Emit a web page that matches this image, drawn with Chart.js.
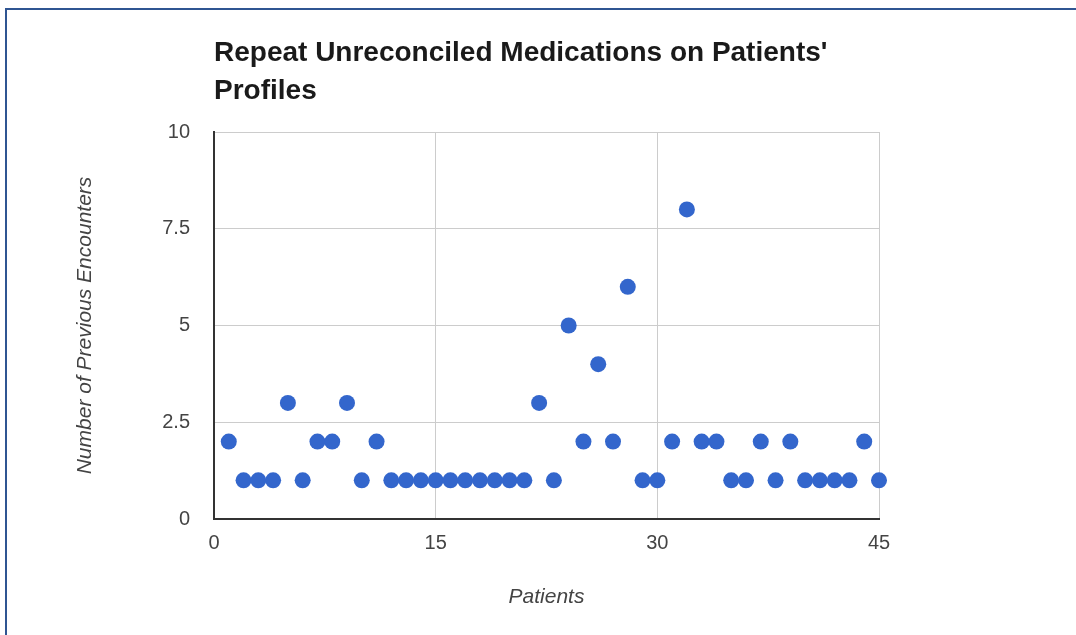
<!DOCTYPE html>
<html>
<head>
<meta charset="utf-8">
<script src="https://cdn.jsdelivr.net/npm/chart.js@4/dist/chart.umd.min.js"></script>
<style>
  html, body { margin: 0; padding: 0; background: #ffffff; }
  #c { display: block; }
</style>
</head>
<body>
<canvas id="c" width="1076" height="635"></canvas>
<script>
// ---- data ----
const patients = [1,2,3,4,5,6,7,8,9,10,11,12,13,14,15,16,17,18,19,20,21,22,23,24,25,26,27,28,29,30,31,32,33,34,35,36,37,38,39,40,41,42,43,44,45];
const encounters = [2,1,1,1,3,1,2,2,3,1,2,1,1,1,1,1,1,1,1,1,1,3,1,5,2,4,2,6,1,1,2,8,2,2,1,1,2,1,2,1,1,1,1,2,1];
const xTickValues = [0, 15, 30, 45];
const yTickValues = [0, 2.5, 5, 7.5, 10];
const chartTitle = ["Repeat Unreconciled Medications on Patients'", "Profiles"];
const xTitle = "Patients";
const yTitle = "Number of Previous Encounters";

const points = patients.map((p, i) => ({ x: p, y: encounters[i] }));

const framePlugin = {
  id: 'frame',
  beforeDraw(chart) {
    const ctx = chart.ctx;
    ctx.save();
    ctx.fillStyle = '#ffffff';
    ctx.fillRect(0, 0, chart.width, chart.height);
    ctx.strokeStyle = '#2f5592';
    ctx.lineWidth = 2;
    ctx.beginPath();
    ctx.moveTo(6, chart.height);
    ctx.lineTo(6, 9);
    ctx.lineTo(chart.width, 9);
    ctx.stroke();
    ctx.restore();
  }
};

new Chart(document.getElementById('c'), {
  type: 'scatter',
  data: {
    datasets: [{
      data: points,
      backgroundColor: '#3366cc',
      borderWidth: 0,
      pointRadius: 8,
      pointHoverRadius: 8,
      clip: false
    }]
  },
  options: {
    responsive: false,
    animation: false,
    events: [],
    layout: { padding: { left: 0, right: 197, top: 0, bottom: 0 } },
    plugins: {
      legend: { display: false },
      tooltip: { enabled: false },
      title: {
        display: true,
        text: chartTitle,
        align: 'start',
        fullSize: false,
        color: '#1a1a1a',
        font: { family: 'Liberation Sans, Arial, sans-serif', size: 28, weight: 'bold', lineHeight: 38 / 28 },
        padding: { top: 34, bottom: 22 }
      }
    },
    scales: {
      x: {
        type: 'linear',
        min: 0,
        max: 45,
        afterBuildTicks: s => { s.ticks = xTickValues.map(v => ({ value: v })); },
        afterFit: s => { s.height = 116; },
        ticks: {
          color: '#444444',
          padding: 12,
          font: { family: 'Liberation Sans, Arial, sans-serif', size: 20 }
        },
        grid: { color: '#cccccc', lineWidth: 1, drawTicks: false },
        border: { display: true, color: '#333333', width: 2 },
        title: {
          display: true,
          text: xTitle,
          color: '#444444',
          font: { family: 'Liberation Sans, Arial, sans-serif', size: 21, style: 'italic' },
          padding: { top: 0, bottom: 25 }
        }
      },
      y: {
        type: 'linear',
        min: 0,
        max: 10,
        afterBuildTicks: s => { s.ticks = yTickValues.map(v => ({ value: v })); },
        afterFit: s => { s.width = 214; },
        ticks: {
          color: '#444444',
          padding: 24,
          font: { family: 'Liberation Sans, Arial, sans-serif', size: 20 }
        },
        grid: { color: '#cccccc', lineWidth: 1, drawTicks: false },
        border: { display: true, color: '#333333', width: 2 },
        title: {
          display: true,
          text: yTitle,
          color: '#444444',
          font: { family: 'Liberation Sans, Arial, sans-serif', size: 21, style: 'italic' },
          padding: { top: 73, bottom: 0 }
        }
      }
    }
  },
  plugins: [framePlugin]
});
</script>
</body>
</html>
